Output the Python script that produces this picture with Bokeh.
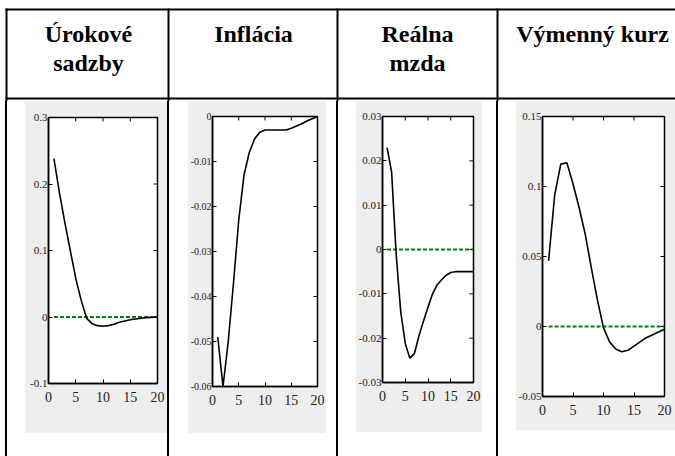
import math
from bokeh.plotting import figure
from bokeh.layouts import row, column
from bokeh.models import Range1d, FixedTicker, Spacer
from bokeh.embed import file_html
from bokeh.resources import INLINE
from bokeh.core.properties import value

# ---------------- data ----------------
periods = list(range(1, 21))
urokove_sadzby = [0.238, 0.187, 0.142, 0.100, 0.058, 0.025, -0.002, -0.010, -0.013, -0.014,
                  -0.013, -0.011, -0.008, -0.006, -0.004, -0.003, -0.002, -0.001, -0.0005, 0.000]
inflacia = [-0.049, -0.060, -0.050, -0.037, -0.023, -0.013, -0.008, -0.005, -0.0035, -0.003,
            -0.003, -0.003, -0.003, -0.003, -0.0026, -0.0021, -0.0016, -0.0010, -0.0005, 0.0]
realna_mzda = [0.023, 0.0175, -0.001, -0.014, -0.0212, -0.0245, -0.0235, -0.0195, -0.0162, -0.013,
               -0.010, -0.008, -0.0068, -0.0058, -0.0052, -0.005, -0.005, -0.005, -0.005, -0.005]
vymenny_kurz = [0.047, 0.094, 0.116, 0.117, 0.102, 0.085, 0.066, 0.042, 0.019, -0.001,
                -0.011, -0.016, -0.018, -0.017, -0.014, -0.011, -0.008, -0.006, -0.004, -0.002]
zero_line = [0.0] * 20

headers = [["Úrokové", "sadzby"], ["Inflácia"], ["Reálna", "mzda"], ["Výmenný kurz"]]

x_ticks = [0, 5, 10, 15, 20]
y_ticks_1 = [-0.1, 0.0, 0.1, 0.2, 0.3]
y_labels_1 = ["-0.1", "0", "0.1", "0.2", "0.3"]
y_ticks_2 = [-0.06, -0.05, -0.04, -0.03, -0.02, -0.01, 0.0]
y_labels_2 = ["-0.06", "-0.05", "-0.04", "-0.03", "-0.02", "-0.01", "0"]
y_ticks_3 = [-0.03, -0.02, -0.01, 0.0, 0.01, 0.02, 0.03]
y_labels_3 = ["-0.03", "-0.02", "-0.01", "0", "0.01", "0.02", "0.03"]
y_ticks_4 = [-0.05, 0.0, 0.05, 0.1, 0.15]
y_labels_4 = ["-0.05", "0", "0.05", "0.1", "0.15"]

# ---------------- style / layout ----------------
GRAY = "#eeeeee"
TICK_FONT = "Liberation Sans Narrow"
HEAD_FONT = "Liberation Serif"
TOTAL_W = 675
HEAD_H = 101
BODY_H = 355


def make_panel(y, yr, yticks, ylabels, w, h, borders, ysize, show_zero=True):
    left, right, top, bottom = borders
    p = figure(width=w, height=h, x_range=Range1d(0, 20), y_range=Range1d(*yr),
               output_backend="svg", toolbar_location=None,
               min_border_left=left, min_border_right=right,
               min_border_top=top, min_border_bottom=bottom,
               background_fill_color="white", border_fill_color=GRAY,
               outline_line_color="black", outline_line_width=1.5)
    p.grid.visible = False
    p.xaxis.ticker = FixedTicker(ticks=x_ticks)
    p.yaxis.ticker = FixedTicker(ticks=yticks)
    p.yaxis.major_label_overrides = {t: l for t, l in zip(yticks, ylabels)}
    for ax in p.xaxis + p.yaxis:
        ax.major_tick_in = 4
        ax.major_tick_out = 0
        ax.minor_tick_line_color = None
        ax.axis_line_width = 1.5
        ax.axis_line_color = "black"
        ax.major_tick_line_color = "black"
        ax.major_label_text_font = TICK_FONT
        ax.major_label_text_color = "#222222"
    p.yaxis.major_label_text_font_size = ysize
    p.yaxis.major_label_standoff = 1
    p.xaxis.major_label_text_font_size = "14px"
    p.xaxis.major_label_standoff = 8
    # mirrored inward ticks on the top and right edges (outer half clipped by the frame)
    p.scatter(x_ticks[1:-1], [yr[1]] * (len(x_ticks) - 2), marker="dash", angle=math.pi / 2,
              size=8, line_color="black", line_width=1)
    p.scatter([20] * (len(yticks) - 2), yticks[1:-1], marker="dash",
              size=8, line_color="black", line_width=1)
    if show_zero:
        p.line(periods, zero_line, line_color="#008000", line_dash="4 2", line_width=2)
    p.line(periods, y, line_color="black", line_width=1.6)
    return p


p1 = make_panel(urokove_sadzby, (-0.1, 0.3), y_ticks_1, y_labels_1, 143, 332, (24, 10, 16, 50), "11px")
p2 = make_panel(inflacia, (-0.06, 0.0), y_ticks_2, y_labels_2, 139, 332, (19, 9, 15, 47), "10px", show_zero=False)
p3 = make_panel(realna_mzda, (-0.03, 0.03), y_ticks_3, y_labels_3, 127, 331, (22, 9, 15, 50), "11px")
p4 = make_panel(vymenny_kurz, (-0.05, 0.15), y_ticks_4, y_labels_4, 160, 329, (26, 11, 15, 34), "11px")

# header (table top row)
head = figure(width=TOTAL_W, height=HEAD_H, x_range=Range1d(0, TOTAL_W), y_range=Range1d(HEAD_H, 0),
              output_backend="svg", toolbar_location=None, min_border=0,
              background_fill_color="white", border_fill_color="white", outline_line_color=None)
head.axis.visible = False
head.grid.visible = False
line_x = [5, 167, 336, 496]
head.quad(left=[5, 5] + line_x, right=[TOTAL_W, TOTAL_W] + [v + 2 for v in line_x],
          top=[8, 97] + [8] * 4, bottom=[10, 99] + [HEAD_H] * 4,
          fill_color="black", line_color=None)
centers = [88, 253, 417, 592]
baselines = [33, 62]
hx, hy, ht = [], [], []
for c, lines in zip(centers, headers):
    for i, s in enumerate(lines):
        hx.append(c)
        hy.append(baselines[i])
        ht.append(s)
head.text(x=hx, y=hy, text=ht, text_font=value(HEAD_FONT), text_font_style="bold",
          text_font_size="24px", text_align="center", text_baseline="alphabetic", text_color="black")


def bar():
    return Spacer(width=2, height=BODY_H, styles={"background-color": "black"})


def gap(w):
    return Spacer(width=w, height=BODY_H)


def cell(p):
    return column(p, Spacer(width=p.width, height=BODY_H - p.height), spacing=0)


body = row(gap(5), bar(), gap(17), cell(p1), bar(), gap(18), cell(p2), gap(10),
           bar(), gap(17), cell(p3), gap(14), bar(), gap(17), cell(p4), spacing=0)

layout = column(head, body, spacing=0)

open("out.html", "w").write(file_html(layout, INLINE))
